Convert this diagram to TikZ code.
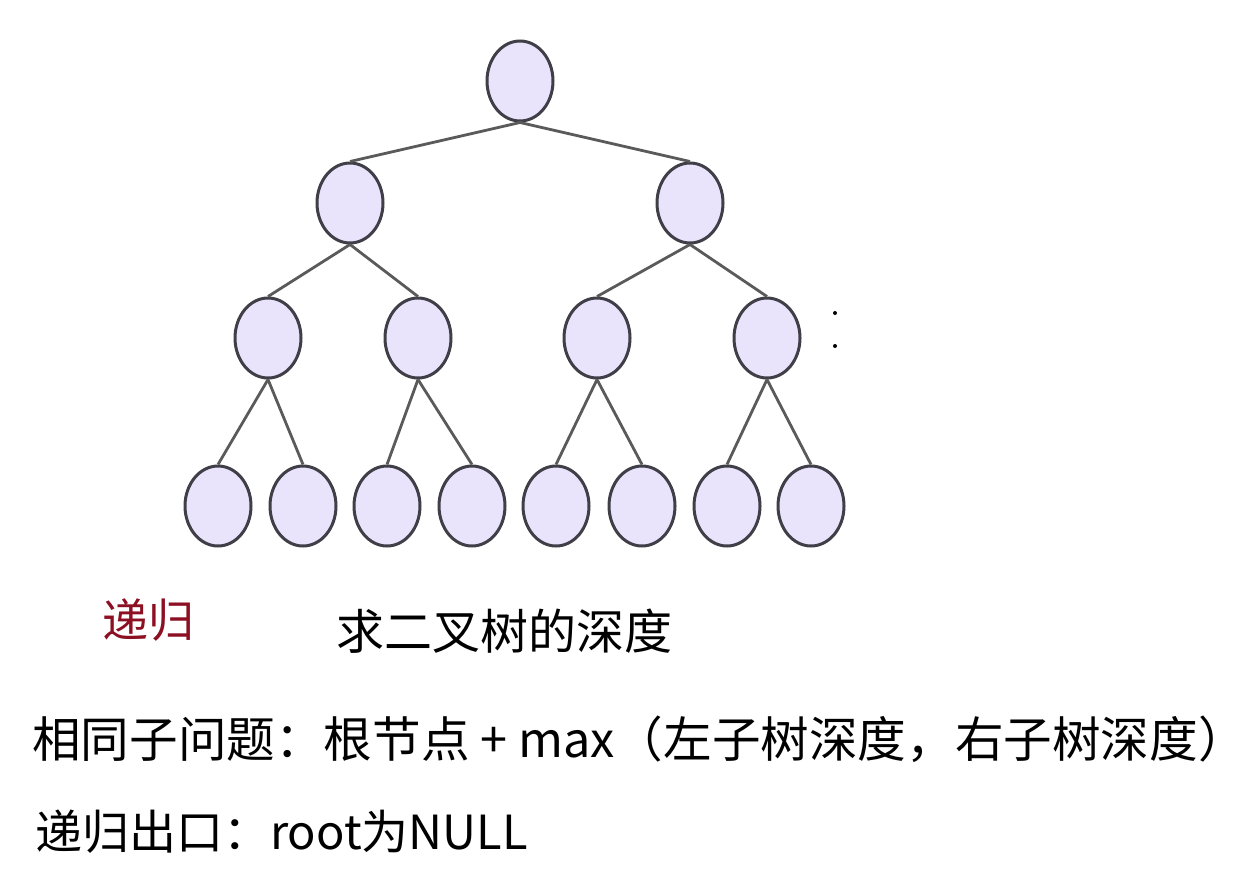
\documentclass[tikz,border=0pt]{standalone}
\usepackage{fontspec}
\setmainfont{Noto Sans CJK SC}
\usetikzlibrary{shapes.geometric}
\definecolor{nodefill}{HTML}{E9E3FC}
\definecolor{nodeline}{HTML}{403F48}
\definecolor{edgegray}{HTML}{5A5A5A}
\definecolor{recred}{HTML}{8C0F22}
\begin{document}
\begin{tikzpicture}[x=1pt, y=-1pt,
  treenode/.style={ellipse, draw=nodeline, fill=nodefill, line width=3pt, inner sep=0pt, minimum width=66pt, minimum height=80pt},
  branch/.style={draw=edgegray, line width=2.8pt},
  txt/.style={anchor=base west, inner sep=0pt, font=\fontsize{47}{56}\selectfont}]
\useasboundingbox (0,0) rectangle (1249,894);
\node[treenode] (n1) at (520,81) {};
\node[treenode] (n2) at (350,203) {};
\node[treenode] (n3) at (690,203) {};
\foreach \x [count=\i from 4] in {268,418,597,767}
  \node[treenode] (n\i) at (\x,338) {};
\foreach \x [count=\i from 8] in {218,303,387,472,556,642,727,811}
  \node[treenode] (n\i) at (\x,506) {};
\foreach \i in {2,...,15}{
  \pgfmathtruncatemacro\up{\i/2}
  \draw[branch] (n\up.south) -- (n\i.north);
}
\fill[black] (835,313) circle (2pt);
\fill[black] (835,346) circle (2pt);
\node[txt, text=recred, font=\fontsize{46}{55}\selectfont] (rec) at (102,637) {递归};
\node[txt, font=\fontsize{48}{58}\selectfont] (title) at (336,649) {求二叉树的深度};
\node[txt, font=\fontsize{48.6}{58}\selectfont] (same) at (32,757) {相同子问题：根节点 + max（左子树深度，右子树深度）};
\node[txt] (exit) at (35,849) {递归出口：root为NULL};
\end{tikzpicture}
\end{document}
